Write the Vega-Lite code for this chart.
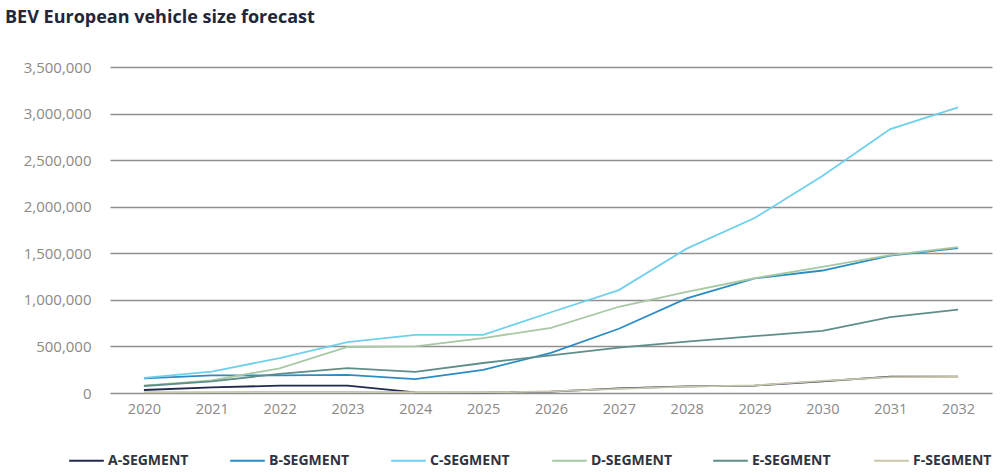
{
  "$schema": "https://vega.github.io/schema/vega-lite/v6.json",
  "width": 882,
  "height": 326,
  "autosize": {"type": "none"},
  "padding": {"left": 110, "top": 67, "right": 8, "bottom": 80},
  "background": "white",
  "title": {
    "text": "BEV European vehicle size forecast",
    "anchor": "start",
    "frame": "group",
    "dx": -105,
    "offset": 33,
    "font": "Open Sans",
    "fontSize": 18,
    "fontWeight": "bold",
    "color": "#22263a"
  },
  "data": {
    "values": [
      {"year": "2020", "segment": "A-SEGMENT", "value": 32000},
      {"year": "2021", "segment": "A-SEGMENT", "value": 60000},
      {"year": "2022", "segment": "A-SEGMENT", "value": 79000},
      {"year": "2023", "segment": "A-SEGMENT", "value": 80000},
      {"year": "2024", "segment": "A-SEGMENT", "value": 6000},
      {"year": "2025", "segment": "A-SEGMENT", "value": 5000},
      {"year": "2026", "segment": "A-SEGMENT", "value": 15000},
      {"year": "2027", "segment": "A-SEGMENT", "value": 50000},
      {"year": "2028", "segment": "A-SEGMENT", "value": 72000},
      {"year": "2029", "segment": "A-SEGMENT", "value": 80000},
      {"year": "2030", "segment": "A-SEGMENT", "value": 125000},
      {"year": "2031", "segment": "A-SEGMENT", "value": 175000},
      {"year": "2032", "segment": "A-SEGMENT", "value": 176000},

      {"year": "2020", "segment": "B-SEGMENT", "value": 158000},
      {"year": "2021", "segment": "B-SEGMENT", "value": 190000},
      {"year": "2022", "segment": "B-SEGMENT", "value": 190000},
      {"year": "2023", "segment": "B-SEGMENT", "value": 195000},
      {"year": "2024", "segment": "B-SEGMENT", "value": 148000},
      {"year": "2025", "segment": "B-SEGMENT", "value": 248000},
      {"year": "2026", "segment": "B-SEGMENT", "value": 430000},
      {"year": "2027", "segment": "B-SEGMENT", "value": 690000},
      {"year": "2028", "segment": "B-SEGMENT", "value": 1015000},
      {"year": "2029", "segment": "B-SEGMENT", "value": 1230000},
      {"year": "2030", "segment": "B-SEGMENT", "value": 1315000},
      {"year": "2031", "segment": "B-SEGMENT", "value": 1475000},
      {"year": "2032", "segment": "B-SEGMENT", "value": 1555000},

      {"year": "2020", "segment": "C-SEGMENT", "value": 162000},
      {"year": "2021", "segment": "C-SEGMENT", "value": 230000},
      {"year": "2022", "segment": "C-SEGMENT", "value": 375000},
      {"year": "2023", "segment": "C-SEGMENT", "value": 547000},
      {"year": "2024", "segment": "C-SEGMENT", "value": 625000},
      {"year": "2025", "segment": "C-SEGMENT", "value": 625000},
      {"year": "2026", "segment": "C-SEGMENT", "value": 867000},
      {"year": "2027", "segment": "C-SEGMENT", "value": 1105000},
      {"year": "2028", "segment": "C-SEGMENT", "value": 1550000},
      {"year": "2029", "segment": "C-SEGMENT", "value": 1878000},
      {"year": "2030", "segment": "C-SEGMENT", "value": 2330000},
      {"year": "2031", "segment": "C-SEGMENT", "value": 2833000},
      {"year": "2032", "segment": "C-SEGMENT", "value": 3066000},

      {"year": "2020", "segment": "D-SEGMENT", "value": 80000},
      {"year": "2021", "segment": "D-SEGMENT", "value": 135000},
      {"year": "2022", "segment": "D-SEGMENT", "value": 265000},
      {"year": "2023", "segment": "D-SEGMENT", "value": 494000},
      {"year": "2024", "segment": "D-SEGMENT", "value": 500000},
      {"year": "2025", "segment": "D-SEGMENT", "value": 590000},
      {"year": "2026", "segment": "D-SEGMENT", "value": 700000},
      {"year": "2027", "segment": "D-SEGMENT", "value": 926000},
      {"year": "2028", "segment": "D-SEGMENT", "value": 1087000},
      {"year": "2029", "segment": "D-SEGMENT", "value": 1232000},
      {"year": "2030", "segment": "D-SEGMENT", "value": 1355000},
      {"year": "2031", "segment": "D-SEGMENT", "value": 1480000},
      {"year": "2032", "segment": "D-SEGMENT", "value": 1565000},

      {"year": "2020", "segment": "E-SEGMENT", "value": 75000},
      {"year": "2021", "segment": "E-SEGMENT", "value": 125000},
      {"year": "2022", "segment": "E-SEGMENT", "value": 205000},
      {"year": "2023", "segment": "E-SEGMENT", "value": 268000},
      {"year": "2024", "segment": "E-SEGMENT", "value": 226000},
      {"year": "2025", "segment": "E-SEGMENT", "value": 322000},
      {"year": "2026", "segment": "E-SEGMENT", "value": 405000},
      {"year": "2027", "segment": "E-SEGMENT", "value": 488000},
      {"year": "2028", "segment": "E-SEGMENT", "value": 551000},
      {"year": "2029", "segment": "E-SEGMENT", "value": 610000},
      {"year": "2030", "segment": "E-SEGMENT", "value": 668000},
      {"year": "2031", "segment": "E-SEGMENT", "value": 815000},
      {"year": "2032", "segment": "E-SEGMENT", "value": 895000},

      {"year": "2020", "segment": "F-SEGMENT", "value": 8000},
      {"year": "2021", "segment": "F-SEGMENT", "value": 10000},
      {"year": "2022", "segment": "F-SEGMENT", "value": 12000},
      {"year": "2023", "segment": "F-SEGMENT", "value": 12000},
      {"year": "2024", "segment": "F-SEGMENT", "value": 8000},
      {"year": "2025", "segment": "F-SEGMENT", "value": 6000},
      {"year": "2026", "segment": "F-SEGMENT", "value": 18000},
      {"year": "2027", "segment": "F-SEGMENT", "value": 45000},
      {"year": "2028", "segment": "F-SEGMENT", "value": 68000},
      {"year": "2029", "segment": "F-SEGMENT", "value": 82000},
      {"year": "2030", "segment": "F-SEGMENT", "value": 130000},
      {"year": "2031", "segment": "F-SEGMENT", "value": 170000},
      {"year": "2032", "segment": "F-SEGMENT", "value": 172000}
    ]
  },
  "mark": {"type": "line", "strokeWidth": 1.8},
  "encoding": {
    "x": {
      "field": "year",
      "type": "ordinal",
      "scale": {"type": "point", "padding": 0.5},
      "axis": {
        "title": null,
        "labelAngle": 0,
        "domain": false,
        "ticks": false,
        "grid": false,
        "labelPadding": 9,
        "labelFont": "Open Sans",
        "labelFontSize": 14.5,
        "labelColor": "#8a8a8a"
      }
    },
    "y": {
      "field": "value",
      "type": "quantitative",
      "scale": {"domain": [0, 3500000]},
      "axis": {
        "title": null,
        "values": [0, 500000, 1000000, 1500000, 2000000, 2500000, 3000000, 3500000],
        "format": ",d",
        "domain": false,
        "ticks": false,
        "grid": true,
        "gridColor": "#8f8f8f",
        "gridWidth": 1.5,
        "labelPadding": 19,
        "labelFont": "Open Sans",
        "labelFontSize": 15,
        "labelColor": "#8a8a8a"
      }
    },
    "color": {
      "field": "segment",
      "type": "nominal",
      "scale": {
        "domain": ["A-SEGMENT", "B-SEGMENT", "C-SEGMENT", "D-SEGMENT", "E-SEGMENT", "F-SEGMENT"],
        "range": ["#1f2a4e", "#2b8cc4", "#6fd0ec", "#a6c9a4", "#5f8e8a", "#c9c6ab"]
      },
      "legend": {
        "title": null,
        "orient": "none",
        "legendX": -42,
        "legendY": 375,
        "direction": "horizontal",
        "columns": 6,
        "gridAlign": "all",
        "symbolType": "stroke",
        "symbolSize": 1200,
        "symbolStrokeWidth": 2,
        "labelFont": "Open Sans",
        "labelFontSize": 14,
        "labelFontWeight": "bold",
        "labelColor": "#2f3340",
        "labelOffset": 3,
        "labelLimit": 200,
        "columnPadding": 36
      }
    }
  },
  "config": {
    "view": {"stroke": null}
  }
}
